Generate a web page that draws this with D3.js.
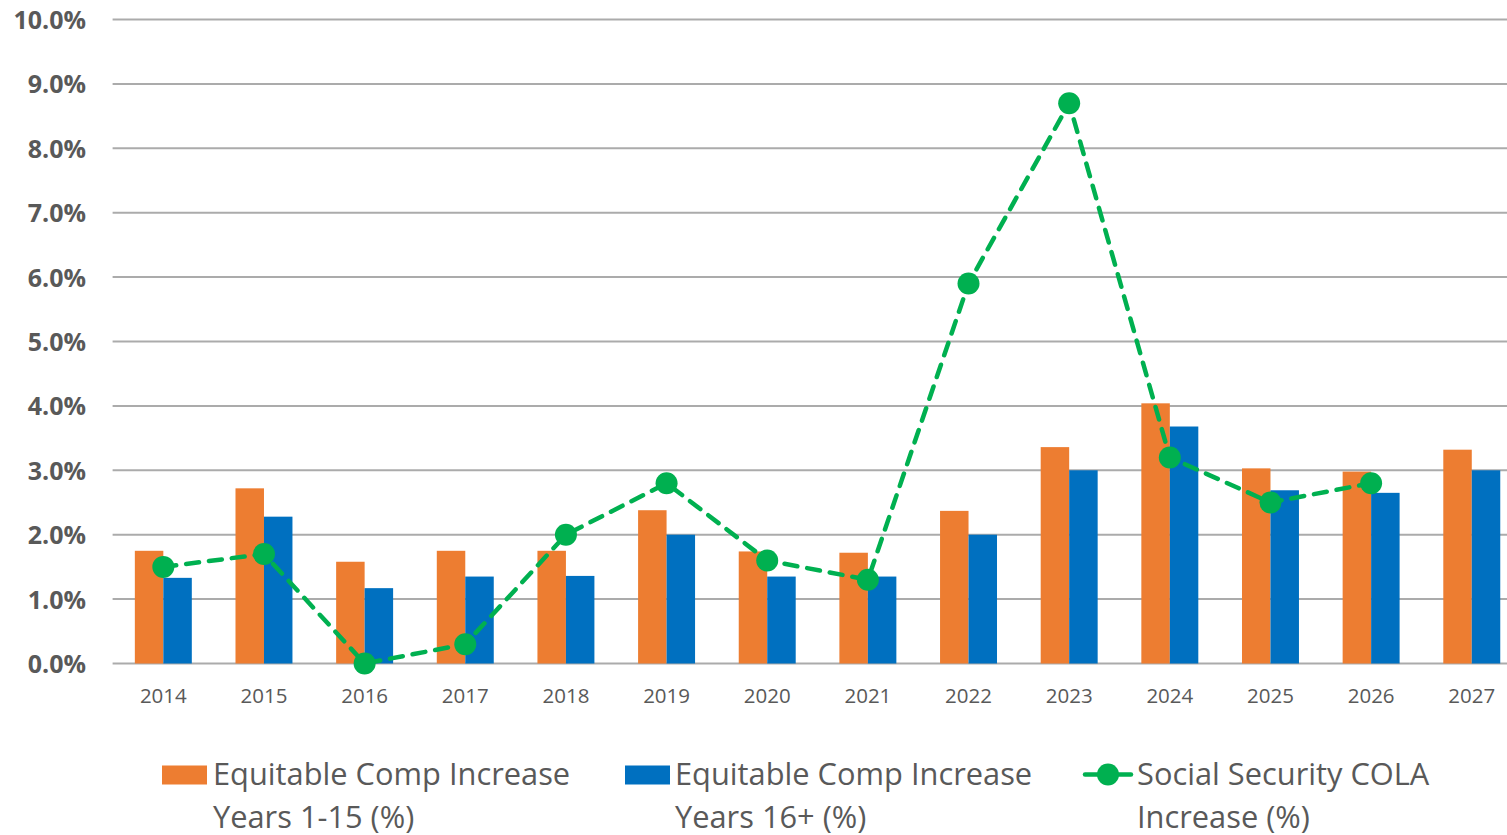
<!DOCTYPE html>
<html>
<head>
<meta charset="utf-8">
<script src="https://cdn.jsdelivr.net/npm/d3@7"></script>
<style>
  html, body { margin: 0; padding: 0; background: #fff; overflow: hidden; }
  svg text { font-family: "Open Sans", "Noto Sans", sans-serif; fill: #595959; }
</style>
</head>
<body>
<div id="chart"></div>
<script>
// ---- Data (percent values)
const years = ['2014', '2015', '2016', '2017', '2018', '2019', '2020',
               '2021', '2022', '2023', '2024', '2025', '2026', '2027'];
const compYears1to15 = [1.75, 2.72, 1.58, 1.75, 1.75, 2.38, 1.74, 1.72, 2.37, 3.36, 4.04, 3.03, 2.98, 3.32];
const compYears16plus = [1.33, 2.28, 1.17, 1.35, 1.36, 2.00, 1.35, 1.35, 2.00, 3.00, 3.68, 2.69, 2.65, 3.00];
const colaIncrease = [1.5, 1.7, 0.0, 0.3, 2.0, 2.8, 1.6, 1.3, 5.9, 8.7, 3.2, 2.5, 2.8, null];
const yTicks = [0, 1, 2, 3, 4, 5, 6, 7, 8, 9, 10];

const seriesNames = ['Equitable Comp Increase Years 1-15 (%)',
                     'Equitable Comp Increase Years 16+ (%)',
                     'Social Security COLA Increase (%)'];
const barKeys = ['a', 'b'];
const colors = { a: '#ED7D31', b: '#0070C0', line: '#00B050', grid: '#ABABAB' };

const W = 1507, H = 835;

const svg = d3.select('#chart').append('svg')
    .attr('width', W).attr('height', H);

// ---- Scales
const y = d3.scaleLinear().domain([0, 10]).range([663.5, 19.5]);
const x0 = d3.scaleBand().domain(years).range([113, 1522.1])
    .paddingInner(0.434).paddingOuter(0.217);
const x1 = d3.scaleBand().domain(barKeys).range([0, x0.bandwidth()]);
const xc = d => x0(d) + x0.bandwidth() / 2;

// ---- Gridlines
svg.append('g').selectAll('line').data(yTicks).join('line')
    .attr('x1', 112.6).attr('x2', W)
    .attr('y1', d => y(d)).attr('y2', d => y(d))
    .attr('stroke', colors.grid).attr('stroke-width', 2);

// ---- Y axis labels
const yAxis = svg.append('g').attr('transform', 'translate(86,0)')
    .call(d3.axisLeft(y).tickValues(yTicks).tickSize(0).tickPadding(0)
        .tickFormat(d => d.toFixed(1) + '%'));
yAxis.select('.domain').remove();
yAxis.selectAll('text')
    .attr('dy', '0.36em')
    .style('font-size', '25px').style('font-weight', '700')
    .style('font-family', '"Open Sans", sans-serif').style('fill', '#595959');

// ---- X axis labels
const xAxis = svg.append('g').attr('transform', 'translate(0,703)')
    .call(d3.axisBottom(x0).tickSize(0).tickPadding(0));
xAxis.select('.domain').remove();
xAxis.selectAll('text')
    .attr('dy', 0).attr('y', 0)
    .style('font-size', '20.5px')
    .style('font-family', '"Open Sans", sans-serif').style('fill', '#595959');

// ---- Bars
const rows = years.map((yr, i) => ({ year: yr, a: compYears1to15[i], b: compYears16plus[i] }));
svg.append('g').selectAll('g').data(rows).join('g')
    .attr('transform', d => `translate(${x0(d.year)},0)`)
  .selectAll('rect').data(d => barKeys.map(k => ({ key: k, value: d[k] }))).join('rect')
    .attr('x', d => x1(d.key))
    .attr('width', x1.bandwidth())
    .attr('y', d => y(d.value))
    .attr('height', d => y(0) - y(d.value))
    .attr('fill', d => colors[d.key]);

// ---- COLA line
const pts = years.map((yr, i) => ({ year: yr, v: colaIncrease[i] })).filter(d => d.v !== null);
svg.append('path').datum(pts)
    .attr('fill', 'none')
    .attr('stroke', colors.line).attr('stroke-width', 4.5)
    .attr('stroke-dasharray', '13,10').attr('stroke-linecap', 'round')
    .attr('d', d3.line().x(d => xc(d.year)).y(d => y(d.v)));
svg.append('g').selectAll('circle').data(pts).join('circle')
    .attr('cx', d => xc(d.year)).attr('cy', d => y(d.v))
    .attr('r', 11).attr('fill', colors.line);

// ---- Legend
const legend = svg.append('g').style('font-size', '30.8px');
const legendItems = [
  { name: seriesNames[0], lines: ['Equitable Comp Increase', 'Years 1-15 (%)'], type: 'a', sx: 162, tx: 213 },
  { name: seriesNames[1], lines: ['Equitable Comp Increase', 'Years 16+ (%)'], type: 'b', sx: 625, tx: 675 },
  { name: seriesNames[2], lines: ['Social Security COLA', 'Increase (%)'], type: 'line', sx: 1085, tx: 1137 }
];
legendItems.forEach(it => {
  if (it.type === 'line') {
    legend.append('line')
        .attr('x1', it.sx).attr('x2', it.sx + 46).attr('y1', 774.5).attr('y2', 774.5)
        .attr('stroke', colors.line).attr('stroke-width', 4.5).attr('stroke-linecap', 'round');
    legend.append('circle').attr('cx', it.sx + 23).attr('cy', 774.5).attr('r', 11)
        .attr('fill', colors.line);
  } else {
    legend.append('rect').attr('x', it.sx).attr('y', 765.5)
        .attr('width', 45).attr('height', 19).attr('fill', colors[it.type]);
  }
  legend.append('text').attr('x', it.tx).attr('y', 785).text(it.lines[0]);
  legend.append('text').attr('x', it.tx).attr('y', 828).text(it.lines[1]);
});
</script>
</body>
</html>
